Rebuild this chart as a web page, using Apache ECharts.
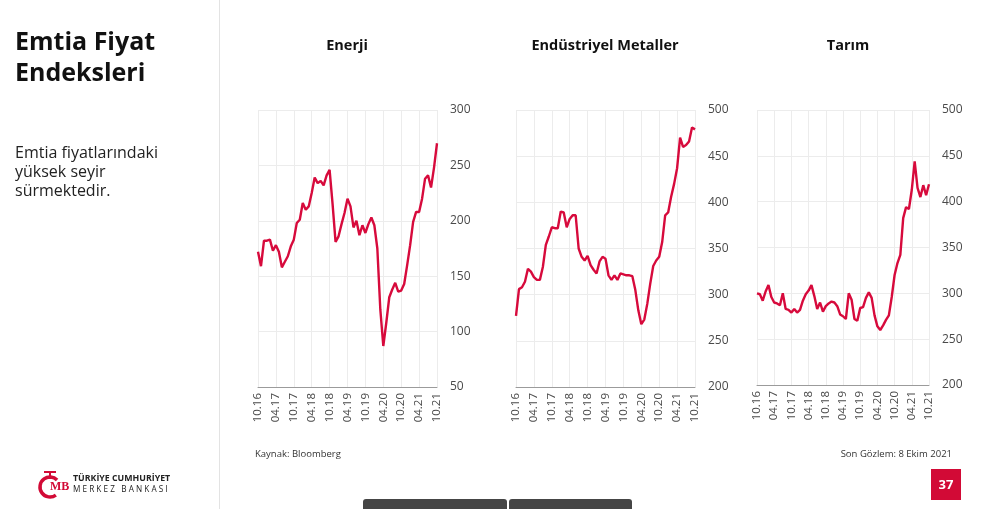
<!DOCTYPE html>
<html>
<head>
<meta charset="utf-8">
<title>Emtia Fiyat Endeksleri</title>
<script src="https://cdn.jsdelivr.net/npm/echarts@6/dist/echarts.min.js"></script>
<style>
  html, body { margin: 0; padding: 0; background: #fff; }
  #main { width: 995px; height: 509px; }
</style>
</head>
<body>
<div id="main"></div>
<script>
// aylık seriler, 10.16 - 10.21
var categories = [
  '10.16','11.16','12.16',
  '01.17','02.17','03.17','04.17','05.17','06.17','07.17','08.17','09.17','10.17','11.17','12.17',
  '01.18','02.18','03.18','04.18','05.18','06.18','07.18','08.18','09.18','10.18','11.18','12.18',
  '01.19','02.19','03.19','04.19','05.19','06.19','07.19','08.19','09.19','10.19','11.19','12.19',
  '01.20','02.20','03.20','04.20','05.20','06.20','07.20','08.20','09.20','10.20','11.20','12.20',
  '01.21','02.21','03.21','04.21','05.21','06.21','07.21','08.21','09.21','10.21'
];

var enerji = [172,159,182,182,183,173,178,172,158,163,168,177,183,198,201,216,210,213,225,239,
  234,236,232,241,246,215,181,186,197,207,220,213,194,200,187,196,189,197,203,196,
  175,120,87,108,131,138,144,136,137,143,160,178,199,208,208,220,238,241,230,248,270];

var metaller = [277,306,308,314,328,325,319,316,316,330,354,363,373,372,372,390,389,373,382,386,
  386,350,341,337,342,332,327,323,336,341,339,321,316,321,316,323,322,321,321,320,
  305,283,268,273,290,312,331,337,341,357,386,389,406,420,437,470,460,462,466,481,479];

var tarim = [300,299,292,302,309,296,290,289,287,300,283,282,279,283,279,282,292,299,303,309,
  297,283,290,280,286,289,291,290,286,277,275,272,300,293,272,270,284,285,295,301,
  295,276,264,260,265,271,276,296,320,333,342,382,394,392,413,444,415,405,418,407,419];

// y ekseni: [min, max, aralık]
var enerjiAxis = [50, 300, 50];
var metallerAxis = [200, 500, 50];
var tarimAxis = [200, 500, 50];

var titles = ['Enerji', 'Endüstriyel Metaller', 'Tarım'];

var lineColor = '#d70a3c';
var red = '#d20a36';

var chart = echarts.init(document.getElementById('main'));

var grids = [
  { left: 258, top: 110, width: 179, height: 277 },
  { left: 516, top: 110, width: 179, height: 277 },
  { left: 757, top: 110, width: 172, height: 275 }
];
var titleX = [347, 605, 848];
var axes = [enerjiAxis, metallerAxis, tarimAxis];
var seriesData = [enerji, metaller, tarim];

function xAxisFor(i) {
  return {
    type: 'category',
    gridIndex: i,
    data: categories,
    boundaryGap: false,
    axisLine: { show: true, lineStyle: { color: '#9b9b9b', width: 1 } },
    axisTick: { show: false },
    axisLabel: { interval: 5, rotate: 90, color: '#4a4a4a', fontSize: 11.5, margin: 6 },
    splitLine: { show: true, interval: 5, lineStyle: { color: '#ececec' } }
  };
}

function yAxisFor(i) {
  return {
    type: 'value',
    gridIndex: i,
    position: 'right',
    min: axes[i][0],
    max: axes[i][1],
    interval: axes[i][2],
    axisLine: { show: false },
    axisTick: { show: false },
    axisLabel: { color: '#4a4a4a', fontSize: 12, margin: 13 },
    splitLine: { lineStyle: { color: '#ececec' } }
  };
}

var option = {
  animation: false,
  textStyle: { fontFamily: 'Open Sans' },
  grid: grids,
  title: titles.map(function (t, i) {
    return {
      text: t,
      left: titleX[i],
      top: 38,
      padding: 0,
      textAlign: 'center',
      textStyle: { fontSize: 14.5, fontWeight: 'bold', color: '#111', fontFamily: 'Open Sans' }
    };
  }),
  xAxis: [xAxisFor(0), xAxisFor(1), xAxisFor(2)],
  yAxis: [yAxisFor(0), yAxisFor(1), yAxisFor(2)],
  series: seriesData.map(function (d, i) {
    return {
      type: 'line',
      xAxisIndex: i,
      yAxisIndex: i,
      data: d,
      symbol: 'none',
      lineStyle: { color: lineColor, width: 2.4 }
    };
  }),
  graphic: [
    // ayırıcı çizgi
    { type: 'line', shape: { x1: 219.5, y1: 0, x2: 219.5, y2: 509 }, style: { stroke: '#e3e3e3', lineWidth: 1 } },
    {
      type: 'text', left: 15, top: 27,
      style: { text: 'Emtia Fiyat\nEndeksleri', font: 'bold 25px "Open Sans"', fill: '#111', lineHeight: 31 }
    },
    {
      type: 'text', left: 15, top: 144,
      style: { text: 'Emtia fiyatlarındaki\nyüksek seyir\nsürmektedir.', font: '16px "Open Sans"', fill: '#222', lineHeight: 19 }
    },
    {
      type: 'text', left: 255, top: 449,
      style: { text: 'Kaynak: Bloomberg', font: '9.5px "Open Sans"', fill: '#333' }
    },
    {
      type: 'text', right: 43, top: 449,
      style: { text: 'Son Gözlem: 8 Ekim 2021', font: '9.5px "Open Sans"', fill: '#333' }
    },
    // sayfa numarası
    { type: 'rect', shape: { x: 931, y: 469, width: 30, height: 31 }, style: { fill: red } },
    {
      type: 'text', x: 946, y: 485,
      style: { text: '37', font: 'bold 13px "Open Sans"', fill: '#fff', align: 'center', verticalAlign: 'middle' }
    },
    // logo
    {
      type: 'arc', shape: { cx: 50, cy: 487, r: 10, startAngle: Math.PI * 0.3, endAngle: Math.PI * 1.75, clockwise: true },
      style: { stroke: red, lineWidth: 3.5, fill: null }
    },
    { type: 'rect', shape: { x: 44, y: 471, width: 12, height: 2 }, style: { fill: red } },
    { type: 'rect', shape: { x: 49, y: 471, width: 2, height: 8 }, style: { fill: red } },
    {
      type: 'text', x: 50, y: 481,
      style: { text: 'MB', font: 'bold 12px "Liberation Serif"', fill: red }
    },
    {
      type: 'text', x: 73, y: 474,
      style: { text: 'TÜRKİYE CUMHURİYET', font: 'bold 8.8px "Open Sans"', fill: '#222' }
    },
    {
      type: 'text', x: 73, y: 486,
      style: { text: 'M E R K E Z   B A N K A S I', font: '8.2px "Open Sans"', fill: '#222' }
    },
    // alttaki koyu çubuklar
    { type: 'rect', shape: { x: 363, y: 499, width: 144, height: 12, r: [3, 3, 0, 0] }, style: { fill: '#454545' } },
    { type: 'rect', shape: { x: 509, y: 499, width: 123, height: 12, r: [3, 3, 0, 0] }, style: { fill: '#454545' } }
  ]
};

chart.setOption(option);
window.addEventListener('resize', function () {
  chart.resize();
});
</script>
</body>
</html>
